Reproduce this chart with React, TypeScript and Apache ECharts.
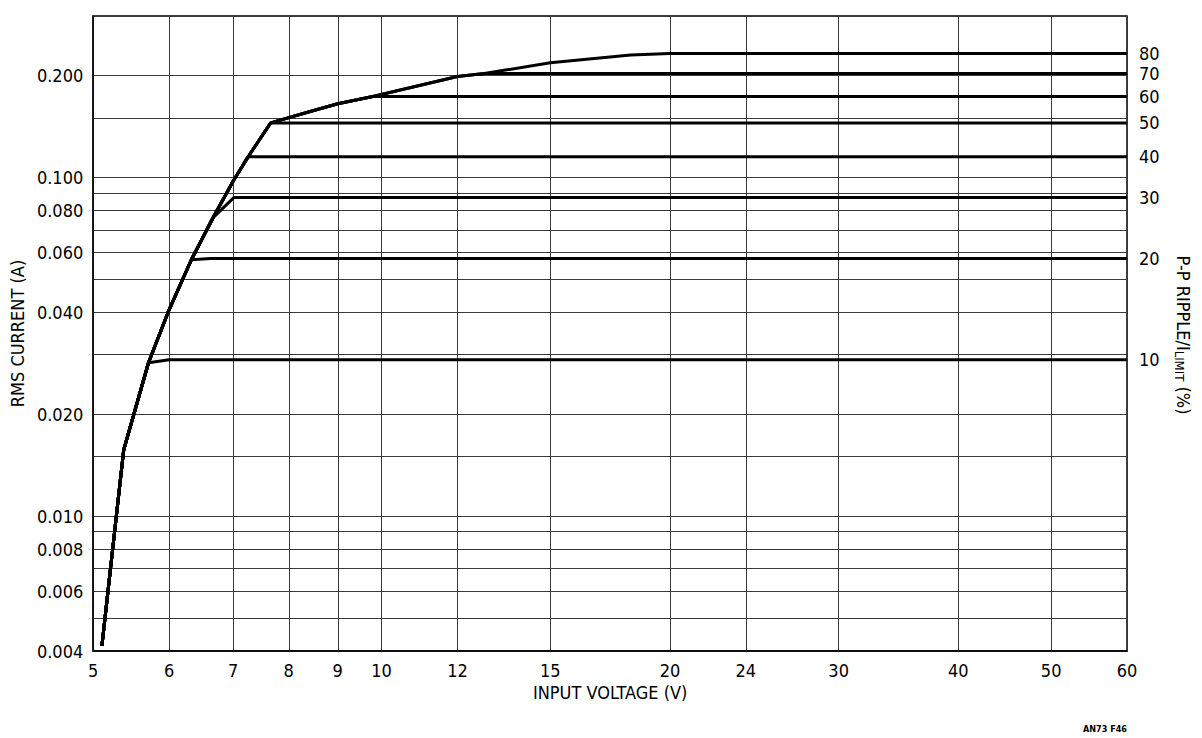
import React, { useEffect, useRef } from "react";
import * as echarts from "echarts";

const xTickValues = [5, 6, 7, 8, 9, 10, 12, 15, 20, 24, 30, 40, 50, 60];
const yGridValues = [
  0.004, 0.005, 0.006, 0.007, 0.008, 0.009, 0.01, 0.015, 0.02, 0.03, 0.04, 0.05,
  0.06, 0.07, 0.08, 0.09, 0.1, 0.15, 0.2, 0.3,
];
const yLabelValues = [0.004, 0.006, 0.008, 0.01, 0.02, 0.04, 0.06, 0.08, 0.1, 0.2];

// shared rising envelope (input voltage V, rms current A)
const envelopeVoltage = [5.105, 5.38, 5.71, 6.0, 6.33, 6.67, 7.01, 7.31, 7.66, 8.44, 9.0, 9.79, 12.0, 12.8, 15.0, 18.2, 20.0];
const envelopeCurrent = [0.00414, 0.0157, 0.0284, 0.0407, 0.0572, 0.0762, 0.0984, 0.119, 0.145, 0.157, 0.1652, 0.1735, 0.1988, 0.2028, 0.2184, 0.23, 0.2323];

// each ripple curve leaves the envelope and runs flat
const rippleLevels = ["10", "20", "30", "40", "50", "60", "70", "80"];
const plateauCurrent = [0.029, 0.0577, 0.0873, 0.1153, 0.145, 0.1735, 0.2028, 0.2323];
const branchIndex = [2, 4, 5, 6, 8, 11, 12, 16];
const joinVoltage = [6.0, 6.63, 7.01, 7.25, 7.66, 9.79, 12.8, 20.0];
const endVoltage = 60;

const FONT = "'Liberation Sans Narrow', 'DejaVu Sans Condensed', 'Liberation Sans', sans-serif";

export default function App() {
  const ref = useRef<HTMLDivElement>(null);
  useEffect(() => {
    document.body.style.margin = "0";
    const chart = echarts.init(ref.current!, null, { renderer: "svg" });
    const series = rippleLevels.map((name, i) => {
      const pts: number[][] = [];
      for (let k = 0; k <= branchIndex[i]; k++) pts.push([envelopeVoltage[k], envelopeCurrent[k]]);
      pts.push([joinVoltage[i], plateauCurrent[i]]);
      pts.push([endVoltage, plateauCurrent[i]]);
      return {
        name,
        type: "line",
        data: pts,
        showSymbol: false,
        symbol: "none",
        z: 5,
        lineStyle: { color: "#000", width: 3 },
        endLabel: {
          show: true,
          formatter: "{a}",
          color: "#000",
          fontSize: 18,
          fontFamily: FONT,
          distance: 12,
        },
      };
    });
    chart.setOption({
      animation: false,
      backgroundColor: "#fff",
      grid: {
        left: 92,
        right: 75,
        top: 16,
        bottom: 87,
        show: true,
        borderColor: "#000",
        borderWidth: 1.5,
      },
      xAxis: {
        type: "log",
        logBase: 10,
        min: 5,
        max: 60,
        name: "INPUT VOLTAGE (V)",
        nameLocation: "middle",
        nameGap: 32,
        nameTextStyle: { color: "#000", fontSize: 18, fontFamily: FONT },
        axisLine: { show: true, lineStyle: { color: "#000", width: 1.5 } },
        axisTick: { show: false, customValues: xTickValues },
        axisLabel: {
          customValues: xTickValues,
          color: "#000",
          fontSize: 18,
          fontFamily: FONT,
          margin: 10,
          formatter: (v: number) => String(Math.round(v)),
        },
        splitLine: { show: true, lineStyle: { color: "#3a3a3a", width: 1 } },
      },
      yAxis: {
        type: "log",
        logBase: 10,
        min: 0.004,
        max: 0.3,
        name: "RMS CURRENT (A)",
        nameLocation: "middle",
        nameGap: 58,
        nameRotate: 90,
        nameTextStyle: { color: "#000", fontSize: 18, fontFamily: FONT },
        axisLine: { show: true, lineStyle: { color: "#000", width: 1.5 } },
        axisTick: { show: false, customValues: yGridValues },
        axisLabel: {
          customValues: yLabelValues,
          color: "#000",
          fontSize: 18,
          fontFamily: FONT,
          margin: 10,
          formatter: (v: number) => v.toFixed(3),
        },
        splitLine: { show: true, lineStyle: { color: "#3a3a3a", width: 1 } },
      },
      graphic: [
        {
          type: "text",
          x: 1183,
          y: 335,
          rotation: -Math.PI / 2,
          style: {
            text: "P-P RIPPLE/I{sub|LIMIT} (%)",
            fill: "#000",
            fontSize: 18,
            fontFamily: FONT,
            align: "center",
            verticalAlign: "middle",
            rich: {
              sub: { fontSize: 13, fontFamily: FONT, fill: "#000", padding: [8, 0, 0, 0] },
            },
          },
        },
        {
          type: "text",
          x: 1127,
          y: 729,
          style: {
            text: "AN73 F46",
            fill: "#000",
            fontSize: 9,
            fontWeight: "bold",
            fontFamily: FONT,
            align: "right",
            verticalAlign: "middle",
          },
        },
      ],
      series,
    });
    return () => chart.dispose();
  }, []);
  return (
    <div
      ref={ref}
      style={{ position: "absolute", left: 0, top: 0, width: 1202, height: 738 }}
    />
  );
}
